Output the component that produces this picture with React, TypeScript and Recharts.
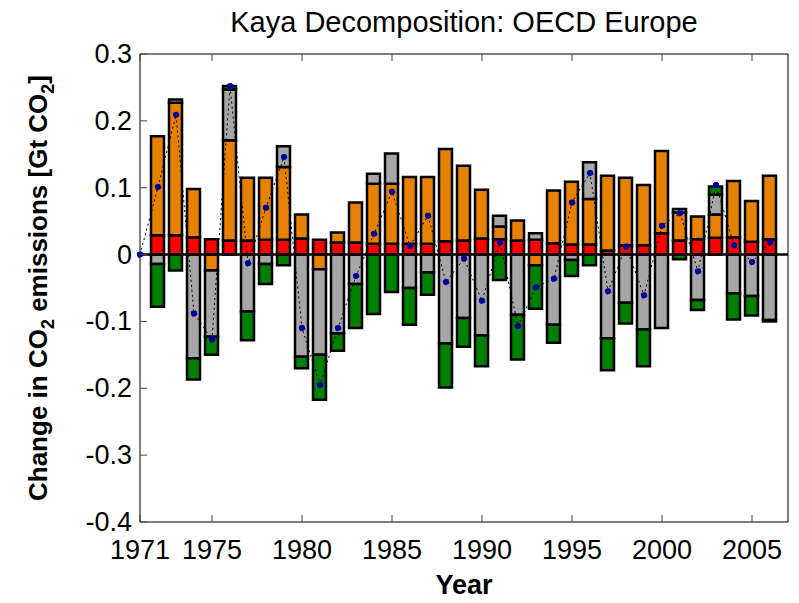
import React from 'react';
import { ComposedChart, Bar, Line, XAxis, YAxis, ReferenceLine } from 'recharts';

const years = [1971, 1972, 1973, 1974, 1975, 1976, 1977, 1978, 1979, 1980, 1981, 1982, 1983, 1984, 1985, 1986, 1987, 1988, 1989, 1990, 1991, 1992, 1993, 1994, 1995, 1996, 1997, 1998, 1999, 2000, 2001, 2002, 2003, 2004, 2005, 2006];

// Kaya factors (Gt CO2 change per year)
const population = [null, 0.029, 0.029, 0.026, 0.023, 0.021, 0.021, 0.022, 0.022, 0.024, 0.022, 0.018, 0.018, 0.016, 0.016, 0.016, 0.016, 0.020, 0.021, 0.024, 0.023, 0.021, 0.022, 0.017, 0.015, 0.015, 0.006, 0.014, 0.014, 0.032, 0.021, 0.023, 0.025, 0.026, 0.019, 0.023];
const gdpPerCapita = [null, 0.148, 0.198, 0.072, -0.024, 0.150, 0.094, 0.093, 0.109, 0.036, -0.022, 0.015, 0.060, 0.090, 0.090, 0.100, 0.100, 0.138, 0.112, 0.073, 0.019, 0.030, -0.016, 0.079, 0.094, 0.068, 0.112, 0.101, 0.090, 0.123, 0.042, 0.034, 0.035, 0.084, 0.061, 0.095];
const energyIntensity = [null, -0.014, 0.005, -0.155, -0.099, 0.076, -0.085, -0.014, 0.031, -0.153, -0.128, -0.118, -0.044, 0.015, 0.045, -0.050, -0.027, -0.133, -0.095, -0.121, 0.016, -0.090, 0.010, -0.105, -0.008, 0.055, -0.125, -0.072, -0.112, -0.110, 0.005, -0.068, 0.030, -0.058, -0.062, -0.098];
const carbonIntensity = [null, -0.064, -0.024, -0.032, -0.027, 0.005, -0.043, -0.030, -0.016, -0.017, -0.067, -0.026, -0.066, -0.089, -0.056, -0.055, -0.033, -0.066, -0.043, -0.046, -0.038, -0.067, -0.065, -0.027, -0.024, -0.016, -0.048, -0.031, -0.055, 0, -0.007, -0.015, 0.012, -0.039, -0.029, -0.002];
const total = [0, 0.101, 0.209, -0.088, -0.127, 0.252, -0.013, 0.070, 0.146, -0.110, -0.195, -0.110, -0.032, 0.031, 0.094, 0.013, 0.058, -0.041, -0.006, -0.069, 0.018, -0.107, -0.049, -0.036, 0.078, 0.122, -0.055, 0.012, -0.061, 0.043, 0.062, -0.025, 0.104, 0.014, -0.011, 0.018];

const xTicks = [1971, 1975, 1980, 1985, 1990, 1995, 2000, 2005];
const yTicks = [-0.4, -0.3, -0.2, -0.1, 0, 0.1, 0.2, 0.3];

const data = years.map((year, i) => ({
  year,
  population: population[i],
  gdpPerCapita: gdpPerCapita[i],
  energyIntensity: energyIntensity[i],
  carbonIntensity: carbonIntensity[i],
  total: total[i],
}));

const FONT = '"Liberation Sans", Arial, Helvetica, sans-serif';
const TICK_COLOR = '#444';
const TICK_LEN = 7;

const BottomTick = (props: any) => {
  const { x, y, payload } = props;
  return (
    <g>
      <line x1={x} y1={y} x2={x} y2={y - TICK_LEN} stroke={TICK_COLOR} strokeWidth={1} />
      <text x={x} y={y + 37} textAnchor="middle" fontSize={27} fontFamily={FONT} fill="#000">
        {payload.value}
      </text>
    </g>
  );
};

const TopTick = (props: any) => {
  const { x, y } = props;
  return <line x1={x} y1={y} x2={x} y2={y + TICK_LEN} stroke={TICK_COLOR} strokeWidth={1} />;
};

const LeftTick = (props: any) => {
  const { x, y, payload } = props;
  return (
    <g>
      <line x1={x} y1={y} x2={x + TICK_LEN} y2={y} stroke={TICK_COLOR} strokeWidth={1} />
      <text x={x - 8} y={y + 9} textAnchor="end" fontSize={27} fontFamily={FONT} fill="#000">
        {String(payload.value)}
      </text>
    </g>
  );
};

const RightTick = (props: any) => {
  const { x, y } = props;
  return <line x1={x} y1={y} x2={x - TICK_LEN} y2={y} stroke={TICK_COLOR} strokeWidth={1} />;
};

const barCommon = {
  stackId: 'kaya',
  stroke: '#000',
  strokeWidth: 2.5,
  barSize: 13,
  isAnimationActive: false,
};

export default function App() {
  return (
    <div style={{ position: 'absolute', left: 0, top: 0, width: 799, height: 603, background: '#fff' }}>
      <ComposedChart
        width={799}
        height={603}
        data={data}
        stackOffset="sign"
        margin={{ top: 0, right: 0, bottom: 0, left: 0 }}
      >
        <XAxis
          dataKey="year"
          type="number"
          domain={[1971, 2007]}
          ticks={xTicks}
          interval={0}
          height={81}
          tickSize={0}
          tickMargin={0}
          tickLine={false}
          axisLine={{ stroke: '#000', strokeWidth: 1 }}
          tick={(p: any) => <BottomTick {...p} />}
        />
        <XAxis
          xAxisId="top"
          orientation="top"
          dataKey="year"
          type="number"
          domain={[1971, 2007]}
          ticks={xTicks}
          interval={0}
          height={54}
          tickSize={0}
          tickMargin={0}
          tickLine={false}
          axisLine={{ stroke: '#000', strokeWidth: 1 }}
          tick={(p: any) => <TopTick {...p} />}
        />
        <YAxis
          type="number"
          domain={[-0.4, 0.3]}
          ticks={yTicks}
          interval={0}
          width={140}
          tickSize={0}
          tickMargin={0}
          tickLine={false}
          axisLine={{ stroke: '#000', strokeWidth: 1 }}
          tick={(p: any) => <LeftTick {...p} />}
        />
        <YAxis
          yAxisId="right"
          orientation="right"
          type="number"
          domain={[-0.4, 0.3]}
          ticks={yTicks}
          interval={0}
          width={11}
          tickSize={0}
          tickMargin={0}
          tickLine={false}
          axisLine={{ stroke: '#000', strokeWidth: 1 }}
          tick={(p: any) => <RightTick {...p} />}
        />
        <Bar dataKey="population" fill="#FF0000" {...barCommon} />
        <Bar dataKey="gdpPerCapita" fill="#E68000" {...barCommon} />
        <Bar dataKey="energyIntensity" fill="#A6A6A6" {...barCommon} />
        <Bar dataKey="carbonIntensity" fill="#008000" {...barCommon} />
        <ReferenceLine y={0} stroke="#000" strokeWidth={2.5} />
        <Line
          dataKey="total"
          type="linear"
          stroke="#000"
          strokeWidth={1}
          strokeDasharray="2 3"
          dot={{ r: 3, fill: '#00008B', stroke: '#0000FF', strokeWidth: 1 }}
          activeDot={false}
          isAnimationActive={false}
        />
      </ComposedChart>
      <svg
        width={799}
        height={603}
        style={{ position: 'absolute', left: 0, top: 0, pointerEvents: 'none' }}
      >
        <text x={464} y={32} textAnchor="middle" fontSize={29} fontFamily={FONT} fill="#000">
          Kaya Decomposition: OECD Europe
        </text>
        <text x={464} y={594} textAnchor="middle" fontSize={27} fontWeight="bold" fontFamily={FONT} fill="#000">
          Year
        </text>
        <text
          transform="translate(47,288) rotate(-90)"
          textAnchor="middle"
          fontSize={26}
          fontWeight="bold"
          fontFamily={FONT}
          fill="#000"
        >
          Change in CO<tspan dy={7} fontSize={18}>2</tspan>
          <tspan dy={-7}> emissions [Gt CO</tspan>
          <tspan dy={7} fontSize={18}>2</tspan>
          <tspan dy={-7}>]</tspan>
        </text>
      </svg>
    </div>
  );
}
